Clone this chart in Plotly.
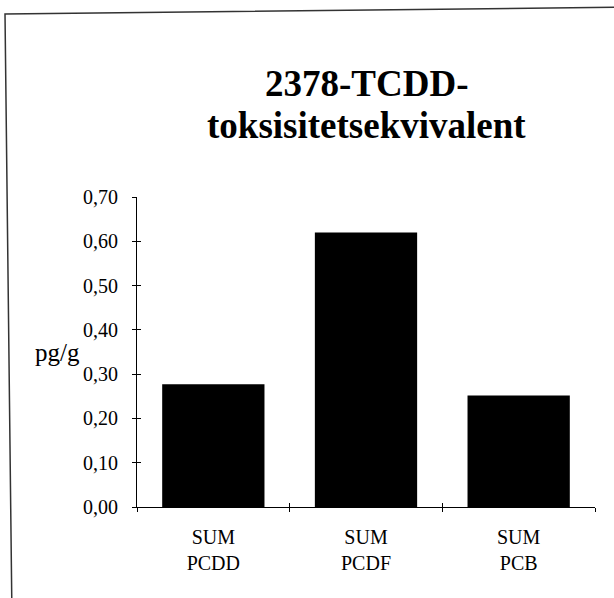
import plotly.graph_objects as go

categories = ["SUM<br>PCDD", "SUM<br>PCDF", "SUM<br>PCB"]
values = [0.277, 0.620, 0.252]
title_lines = ["2378-TCDD-", "toksisitetsekvivalent"]
y_label = "pg/g"
y_ticks = [0.0, 0.1, 0.2, 0.3, 0.4, 0.5, 0.6, 0.7]

FONT = "Liberation Serif, Times New Roman, serif"

fig = go.Figure()
fig.add_trace(go.Bar(x=categories, y=values, marker=dict(color="black", line=dict(width=0)),
                     hoverinfo="skip", showlegend=False))
# invisible companion trace on overlay axes to draw crossing (inside) tick halves
fig.add_trace(go.Scatter(x=categories, y=values, xaxis="x2", yaxis="y2", mode="markers",
                         marker=dict(opacity=0), hoverinfo="skip", showlegend=False))

W, H = 614, 598
L, R, T, B = 137, 19, 197, 91
pw = W - L - R
ph = H - T - B

def px_to_paper(px, py):
    return (px - L) / pw, (H - B - py) / ph

axis_common = dict(showgrid=False, zeroline=False)

fig.update_layout(
    width=W, height=H,
    margin=dict(l=L, r=R, t=T, b=B, pad=0),
    paper_bgcolor="white", plot_bgcolor="white",
    separators=", ",
    bargap=0.33,
    font=dict(family=FONT, color="black", size=20),
    xaxis=dict(type="category", tickson="boundaries", ticks="outside", ticklen=4,
               tickwidth=1, tickcolor="black", showline=True, linecolor="black", linewidth=1,
               tickfont=dict(family=FONT, size=20, color="black"), range=[-0.5, 2.5],
               ticklabelstandoff=12, **axis_common),
    yaxis=dict(range=[0, 0.70], tickvals=y_ticks, tickformat=".2f", ticks="outside",
               ticklen=4, tickwidth=1, tickcolor="black", showline=True, linecolor="black",
               linewidth=1, tickfont=dict(family=FONT, size=20, color="black"),
               ticklabelstandoff=10, **axis_common),
    xaxis2=dict(type="category", overlaying="x", tickson="boundaries", ticks="inside",
                ticklen=4, tickwidth=1, tickcolor="black", showticklabels=False,
                showline=False, range=[-0.5, 2.5], side="bottom", **axis_common),
    yaxis2=dict(overlaying="y", range=[0, 0.70], tickvals=y_ticks, ticks="inside",
                ticklen=4, tickwidth=1, tickcolor="black", showticklabels=False,
                showline=False, side="left", **axis_common),
)

# title lines
for text, y_px in zip(title_lines, [83, 125]):
    xp, yp = px_to_paper(366, y_px)
    fig.add_annotation(text=f"<b>{text}</b>", xref="paper", yref="paper", x=xp, y=yp,
                       xanchor="center", yanchor="middle", showarrow=False,
                       font=dict(family=FONT, size=37, color="black"))

# horizontal y-axis label
fig.add_annotation(text=y_label, xref="paper", yref="paper", x=0, y=0.5, xanchor="right",
                   yanchor="middle", xshift=-55, showarrow=False,
                   font=dict(family=FONT, size=25, color="black"))

# scanned page frame (left and top edges only; the rest lies outside the scan)
pts = [px_to_paper(12, 620), px_to_paper(5, 14), px_to_paper(640, 7)]
path = "M " + " L ".join(f"{x:.4f},{y:.4f}" for x, y in pts)
fig.add_shape(type="path", xref="paper", yref="paper", path=path,
              line=dict(color="#333333", width=1.5), layer="below")

fig.write_html("out.html", config={"displayModeBar": False},
               post_script="document.body.style.margin='0';document.body.style.overflow='hidden';")
